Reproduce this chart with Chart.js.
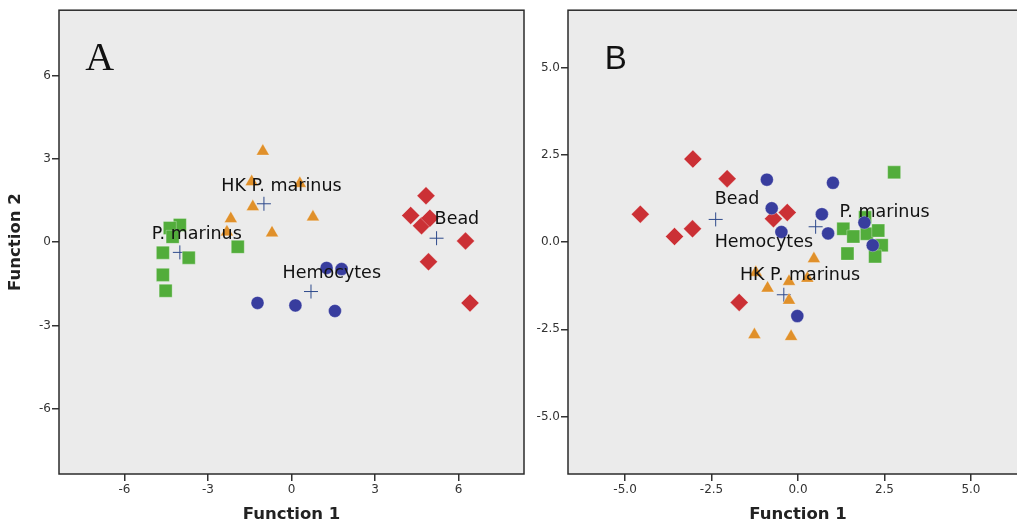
<!DOCTYPE html>
<html lang="en">
<head>
  <meta charset="UTF-8">
  <title>Discriminant function plots</title>
  <style>
    body {
      margin: 0;
      background: white;
      overflow: hidden;
    }
    #wrap {
      position: relative;
      width: 1017px;
      height: 526px;
      overflow: hidden;
    }
    #chartA {
      position: absolute;
      left: 0;
      top: 0;
    }
    #chartB {
      position: absolute;
      left: 525px;
      top: 0;
    }
  </style>
  <script src="https://cdn.jsdelivr.net/npm/chart.js"></script>
</head>
<body>
  <div id="wrap">
    <canvas id="chartA" width="545" height="526"></canvas>
    <canvas id="chartB" width="515" height="526"></canvas>
  </div>

  <script>
    // Panel A
    const aBeadX = [4.83, 4.28, 4.67, 4.97, 6.25, 4.92, 6.41];
    const aBeadY = [1.67, 0.96, 0.59, 0.86, 0.04, -0.71, -2.19];
    const aHemoX = [1.26, 1.80, -1.22, 0.14, 1.56];
    const aHemoY = [-0.93, -0.97, -2.19, -2.28, -2.48];
    const aHkX = [-1.03, -1.43, 0.30, -1.39, -2.18, 0.77, -2.32, -0.70];
    const aHkY = [3.27, 2.17, 2.11, 1.27, 0.84, 0.90, 0.36, 0.33];
    const aPmX = [-4.01, -4.37, -4.27, -4.62, -3.69, -1.93, -4.62, -4.52];
    const aPmY = [0.62, 0.51, 0.19, -0.38, -0.56, -0.17, -1.18, -1.75];
    const aCentX = [5.21, 0.70, -0.99, -4.01];
    const aCentY = [0.14, -1.78, 1.38, -0.37];
    const aLabels = ['Bead', 'Hemocytes', 'HK P. marinus', 'P. marinus'];
    const aLabelX = [5.14, -0.32, -2.52, -5.02];
    const aLabelY = [0.83, -1.14, 2.02, 0.28];
    const aTicks = [-6, -3, 0, 3, 6];

    // Panel B
    const bBeadX = [-3.04, -2.05, -4.56, -3.05, -3.57, -0.71, -0.31, -1.70];
    const bBeadY = [2.38, 1.82, 0.80, 0.38, 0.16, 0.67, 0.85, -1.73];
    const bHemoX = [-0.90, 1.01, -0.76, 0.69, -0.48, 0.87, 1.92, 2.16, -0.02];
    const bHemoY = [1.79, 1.70, 0.97, 0.80, 0.29, 0.25, 0.56, -0.09, -2.12];
    const bHkX = [0.46, -1.22, -0.26, 0.27, -0.88, -0.26, -1.26, -0.20];
    const bHkY = [-0.48, -0.87, -1.13, -1.04, -1.32, -1.67, -2.66, -2.71];
    const bPmX = [2.78, 1.31, 1.60, 1.94, 1.99, 2.32, 2.42, 1.43, 2.23];
    const bPmY = [2.00, 0.38, 0.16, 0.71, 0.24, 0.33, -0.09, -0.33, -0.41];
    const bCentX = [-2.38, 0.51, -0.41, 2.02];
    const bCentY = [0.65, 0.44, -1.51, 0.29];
    const bLabels = ['Bead', 'Hemocytes', 'HK P. marinus', 'P. marinus'];
    const bLabelX = [-2.41, -2.41, -1.68, 1.20];
    const bLabelY = [1.21, -0.02, -0.96, 0.85];
    const bTicks = [-5, -2.5, 0, 2.5, 5];

    const RED = '#cb3035';
    const BLUE = '#383d9e';
    const ORANGE = '#e0902a';
    const GREEN = '#52ad3b';
    const CROSS = '#2e4a8c';

    function pts(xs, ys) {
      return xs.map((x, i) => ({ x: x, y: ys[i] }));
    }

    function ds(xs, ys, style, color, r) {
      return {
        data: pts(xs, ys),
        pointStyle: style,
        pointRadius: r,
        pointHoverRadius: r,
        backgroundColor: color,
        borderColor: style === 'cross' ? color : 'rgba(255,255,255,0.3)',
        borderWidth: 1
      };
    }

    // background, frame, group labels and panel letter
    const panelPlugin = {
      id: 'panel',
      beforeDraw(chart) {
        const a = chart.chartArea;
        const ctx = chart.ctx;
        ctx.save();
        ctx.fillStyle = '#ebebeb';
        ctx.fillRect(a.left, a.top, a.right - a.left, a.bottom - a.top);
        ctx.restore();
      },
      afterDatasetsDraw(chart) {
        const o = chart.options.plugins.panel;
        const a = chart.chartArea;
        const xs = chart.scales.x, ys = chart.scales.y;
        const ctx = chart.ctx;
        ctx.save();
        ctx.fillStyle = '#111';
        ctx.font = '17.5px "DejaVu Sans"';
        ctx.textAlign = 'left';
        ctx.textBaseline = 'middle';
        o.labels.forEach((t, i) => {
          ctx.fillText(t, xs.getPixelForValue(o.lx[i]), ys.getPixelForValue(o.ly[i]));
        });
        ctx.textAlign = 'center';
        ctx.textBaseline = 'alphabetic';
        ctx.font = o.letterFont;
        ctx.fillText(o.letter, xs.getPixelForValue(o.letterX), ys.getPixelForValue(o.letterY));
        ctx.strokeStyle = '#2b2b2b';
        ctx.lineWidth = 1.5;
        ctx.strokeRect(a.left, a.top, a.right - a.left, a.bottom - a.top);
        ctx.restore();
      }
    };

    function makeChart(id, cfg) {
      return new Chart(document.getElementById(id), {
        type: 'scatter',
        data: {
          datasets: [
            ds(cfg.hemoX, cfg.hemoY, 'circle', BLUE, 6.5),
            ds(cfg.pmX, cfg.pmY, 'rect', GREEN, 9.2),
            ds(cfg.beadX, cfg.beadY, 'rectRot', RED, 9),
            ds(cfg.hkX, cfg.hkY, 'triangle', ORANGE, 7.5),
            ds(cfg.centX, cfg.centY, 'cross', CROSS, 7)
          ]
        },
        options: {
          responsive: false,
          animation: false,
          layout: { padding: { top: cfg.padTop, right: cfg.padRight, bottom: 0, left: 0 } },
          plugins: {
            legend: { display: false },
            tooltip: { enabled: false },
            panel: {
              labels: cfg.labels, lx: cfg.lx, ly: cfg.ly,
              letter: cfg.letter, letterX: cfg.letterX, letterY: cfg.letterY,
              letterFont: cfg.letterFont
            }
          },
          scales: {
            x: {
              type: 'linear',
              min: -cfg.xr, max: cfg.xr,
              afterBuildTicks: s => { s.ticks = cfg.ticks.map(v => ({ value: v })); },
              afterFit: s => { s.height = 52; },
              ticks: {
                callback: cfg.fmt,
                color: '#333',
                font: { family: 'DejaVu Sans', size: 12 },
                padding: 2,
                maxRotation: 0
              },
              grid: { drawOnChartArea: false, drawTicks: true, tickLength: 7, color: '#333', lineWidth: 1.5 },
              border: { display: false },
              title: {
                display: true,
                text: 'Function 1',
                color: '#222',
                font: { family: 'DejaVu Sans', size: 16.5, weight: 'bold' },
                padding: { top: 0, bottom: 1 }
              }
            },
            y: {
              type: 'linear',
              min: -cfg.yr, max: cfg.yr,
              afterBuildTicks: s => { s.ticks = cfg.ticks.map(v => ({ value: v })); },
              afterFit: s => { s.width = cfg.yWidth; },
              ticks: {
                callback: cfg.fmt,
                color: '#333',
                font: { family: 'DejaVu Sans', size: 12 },
                padding: 1
              },
              grid: { drawOnChartArea: false, drawTicks: true, tickLength: 7, color: '#333', lineWidth: 1.5 },
              border: { display: false },
              title: {
                display: cfg.yTitle,
                text: 'Function 2',
                color: '#222',
                font: { family: 'DejaVu Sans', size: 16.5, weight: 'bold' },
                padding: { top: 6, bottom: 0 }
              }
            }
          }
        },
        plugins: [panelPlugin]
      });
    }

    makeChart('chartA', {
      beadX: aBeadX, beadY: aBeadY, hemoX: aHemoX, hemoY: aHemoY,
      hkX: aHkX, hkY: aHkY, pmX: aPmX, pmY: aPmY, centX: aCentX, centY: aCentY,
      labels: aLabels, lx: aLabelX, ly: aLabelY, ticks: aTicks,
      fmt: v => String(v),
      xr: 8.35, yr: 8.35, padTop: 9, padRight: 21, yWidth: 59, yTitle: true,
      letter: 'A', letterX: -6.89, letterY: 6.2, letterFont: '40px "Liberation Serif"'
    });

    makeChart('chartB', {
      beadX: bBeadX, beadY: bBeadY, hemoX: bHemoX, hemoY: bHemoY,
      hkX: bHkX, hkY: bHkY, pmX: bPmX, pmY: bPmY, centX: bCentX, centY: bCentY,
      labels: bLabels, lx: bLabelX, ly: bLabelY, ticks: bTicks,
      fmt: v => v.toFixed(1),
      xr: 6.65, yr: 6.65, padTop: 8, padRight: 12, yWidth: 43, yTitle: false,
      letter: 'B', letterX: -5.27, letterY: 4.97, letterFont: '33px "Liberation Sans"'
    });
  </script>
</body>
</html>
